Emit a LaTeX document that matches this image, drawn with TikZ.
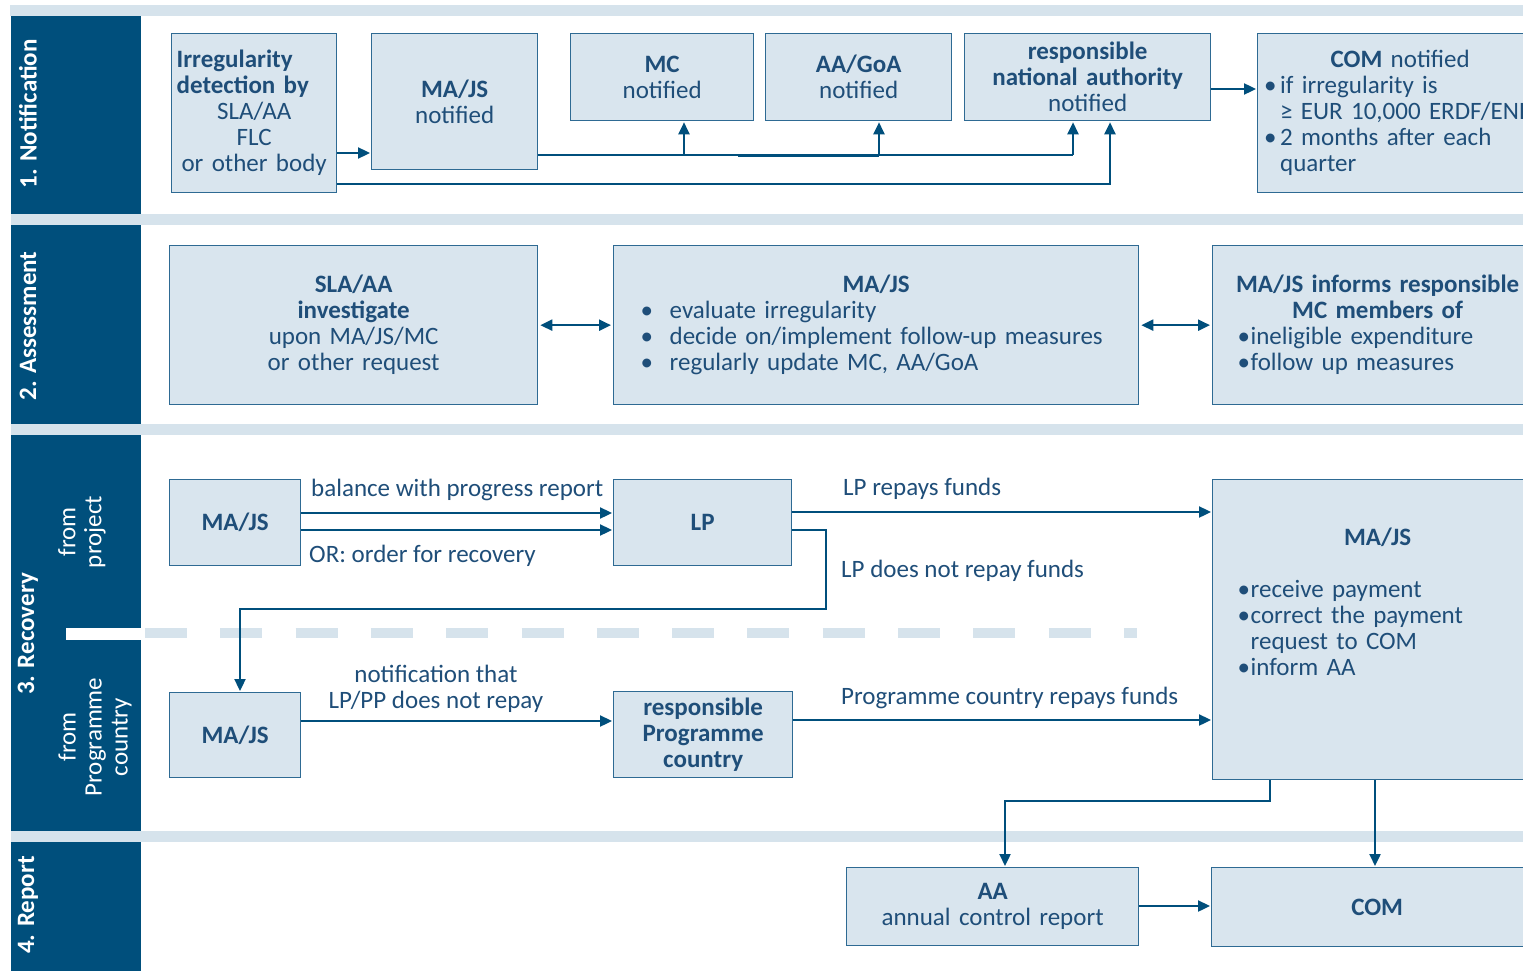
\documentclass[tikz,border=0pt]{standalone}
\usepackage{fontspec}
\setmainfont{Carlito}
\usetikzlibrary{arrows.meta}
\definecolor{dk}{HTML}{004F7C}
\definecolor{bandc}{HTML}{D6E3EC}
\definecolor{boxf}{HTML}{D9E5EE}
\definecolor{boxd}{HTML}{2E6A93}
\definecolor{txt}{HTML}{1F4E79}
\newcommand\fsz{\fontsize{25}{26}\selectfont}
\newcommand\bul[1]{\makebox[#1][l]{•}}
\begin{document}
\begin{tikzpicture}[x=1pt,y=-1pt,
 every node/.style={font=\fsz, text=txt},
 box/.style={draw=boxd, fill=boxf, line width=1.3pt, inner sep=0pt, align=center, anchor=north west},
 arr/.style={draw=dk, line width=2.3pt, -{Triangle[length=12pt,width=11pt]}, shorten >=1pt},
 darr/.style={draw=dk, line width=2.3pt, {Triangle[length=12pt,width=11pt]}-{Triangle[length=12pt,width=11pt]}, shorten >=2pt, shorten <=2pt},
 ln/.style={draw=dk, line width=2.3pt},
 side/.style={rotate=90, text=white, font=\fsz\bfseries, inner sep=0pt},
 sub/.style={rotate=90, text=white, align=center, inner sep=0pt},
 lab/.style={inner sep=0pt}
]
\useasboundingbox (0,0) rectangle (1523,971);
\clip (0,0) rectangle (1523,971);
\fill[white] (0,0) rectangle (1523,971);
% bands and sidebar
\fill[bandc] (10,5) rectangle (1523,16);
\fill[bandc] (11,214) rectangle (1523,225);
\fill[bandc] (11,424) rectangle (1523,435);
\fill[bandc] (11,831) rectangle (1523,842);
\fill[dk] (11,16) rectangle (141,214);
\fill[dk] (11,225) rectangle (141,424);
\fill[dk] (11,435) rectangle (141,831);
\fill[dk] (11,842) rectangle (141,971);
\fill[white] (66,628) rectangle (142,640);
\draw[bandc, line width=10pt, dash pattern=on 42pt off 33.3pt] (145,633) -- (1137,633);
\node[side] (s1) at (28,114) {1. Notification};
\node[side] (s2) at (28,326) {2. Assessment};
\node[side] (s3) at (28,634) {3. Recovery};
\node[side] (s4) at (28,905) {4. Report};
\node[sub] (p1) at (82,532) {from\\project};
\node[sub] (p2) at (95,737) {from\\Programme\\country};
% section 1
\node[box, minimum width=165pt, minimum height=159pt, text width=155pt] (det) at (171,33)
 {{\raggedright\textbf{Irregularity}\\\textbf{detection by}\par}SLA/AA\\FLC\\or other body};
\node[box, minimum width=166pt, minimum height=136pt, text width=156pt] (majs1) at (371,33) {\textbf{MA/JS}\\notified};
\node[box, minimum width=183pt, minimum height=87pt, text width=173pt] (mc) at (570,33) {\textbf{MC}\\notified};
\node[box, minimum width=186pt, minimum height=87pt, text width=176pt] (aa) at (765,33) {\textbf{AA/GoA}\\notified};
\node[box, minimum width=246pt, minimum height=87pt, text width=236pt] (rna) at (964,33) {\textbf{responsible}\\\textbf{national authority}\\notified};
\node[box, minimum width=285pt, minimum height=159pt, text width=272pt] (comn) at (1257,33)
 {{\centering\textbf{COM} notified\par}{\raggedright\bul{16pt}if irregularity is\\\hspace*{16pt}\mbox{≥ EUR 10,000 ERDF/ENI}\\\bul{16pt}2 months after each\\\hspace*{16pt}quarter\par}};
\draw[arr] (det.east |- 0,153) -- (majs1.west |- 0,153);
\draw[ln] (majs1.east |- 0,155) -- (1073,155);
\draw[ln] (738,156) -- (879,156);
\draw[arr] (684,155) -- (684,0 |- mc.south);
\draw[arr] (879,155) -- (879,0 |- aa.south);
\draw[arr] (1073,155) -- (1073,0 |- rna.south);
\draw[arr] (det.east |- 0,184) -- (1110,184) -- (1110,0 |- rna.south);
\draw[arr] (rna.east |- 0,89) -- (comn.west |- 0,89);
% section 2
\node[box, minimum width=368pt, minimum height=159pt, text width=350pt] (sla) at (169,245)
 {\textbf{SLA/AA}\\\textbf{investigate}\\upon MA/JS/MC\\or other request};
\node[box, minimum width=525pt, minimum height=159pt, text width=495pt] (ma2) at (613,245)
 {{\centering\textbf{MA/JS}\par}{\raggedright\hspace*{12pt}\bul{29pt}evaluate irregularity\\\hspace*{12pt}\bul{29pt}decide on/implement follow-up measures\\\hspace*{12pt}\bul{29pt}regularly update MC, AA/GoA\par}};
\node[box, minimum width=330pt, minimum height=159pt, text width=310pt] (inf) at (1212,245)
 {{\centering\textbf{MA/JS informs responsible}\\\textbf{MC members of}\par}{\raggedright\hspace*{15pt}\bul{13pt}ineligible expenditure\\\hspace*{15pt}\bul{13pt}follow up measures\par}};
\draw[darr] (sla.east) -- (ma2.west);
\draw[darr] (ma2.east) -- (inf.west);
% section 3
\node[box, minimum width=131pt, minimum height=86pt, text width=121pt] (m3a) at (169,479) {\textbf{MA/JS}};
\node[box, minimum width=178pt, minimum height=86pt, text width=168pt] (lp) at (613,479) {\textbf{LP}};
\node[box, minimum width=131pt, minimum height=85pt, text width=121pt] (m3b) at (169,692) {\textbf{MA/JS}};
\node[box, minimum width=179pt, minimum height=86pt, text width=169pt] (rpc) at (613,691) {\textbf{responsible}\\\textbf{Programme}\\\textbf{country}};
\node[box, minimum width=330pt, minimum height=300pt, text width=310pt] (m3c) at (1212,479)
 {{\centering\textbf{MA/JS}\par}\vspace{26pt}{\raggedright\hspace*{15pt}\bul{13pt}receive payment\\\hspace*{15pt}\bul{13pt}correct the payment\\\hspace*{28pt}request to COM\\\hspace*{15pt}\bul{13pt}inform AA\par}\vspace{56pt}\hrule height 0pt};
\node[lab, anchor=base west] (l1) at (311,496) {balance with progress report};
\node[lab, anchor=base west] (l2) at (309,562) {OR: order for recovery};
\node[lab, anchor=base west] (l3) at (843,495) {LP repays funds};
\node[lab, anchor=base west] (l4) at (841,577) {LP does not repay funds};
\node[lab, align=center] (l5) at (436,689) {notification that\\LP/PP does not repay};
\node[lab, anchor=base west] (l6) at (841,704) {Programme country repays funds};
\draw[arr] (m3a.east |- 0,513) -- (lp.west |- 0,513);
\draw[arr] (m3a.east |- 0,530) -- (lp.west |- 0,530);
\draw[arr] (lp.east |- 0,512) -- (m3c.west |- 0,512);
\draw[arr] (lp.east |- 0,530) -- (826,530) -- (826,609) -- (240,609) -- (240,0 |- m3b.north);
\draw[arr] (m3b.east |- 0,721) -- (rpc.west |- 0,721);
\draw[arr] (rpc.east |- 0,720) -- (m3c.west |- 0,720);
% section 4
\node[box, minimum width=292pt, minimum height=78pt, text width=282pt] (aa4) at (846,867) {\textbf{AA}\\annual control report};
\node[box, minimum width=331pt, minimum height=79pt, text width=321pt] (com4) at (1211,867) {\textbf{COM}};
\draw[arr] (1270,0 |- m3c.south) -- (1270,801) -- (1005,801) -- (1005,0 |- aa4.north);
\draw[arr] (1375,0 |- m3c.south) -- (1375,0 |- com4.north);
\draw[arr] (aa4.east |- 0,906) -- (com4.west |- 0,906);
\end{tikzpicture}
\end{document}
